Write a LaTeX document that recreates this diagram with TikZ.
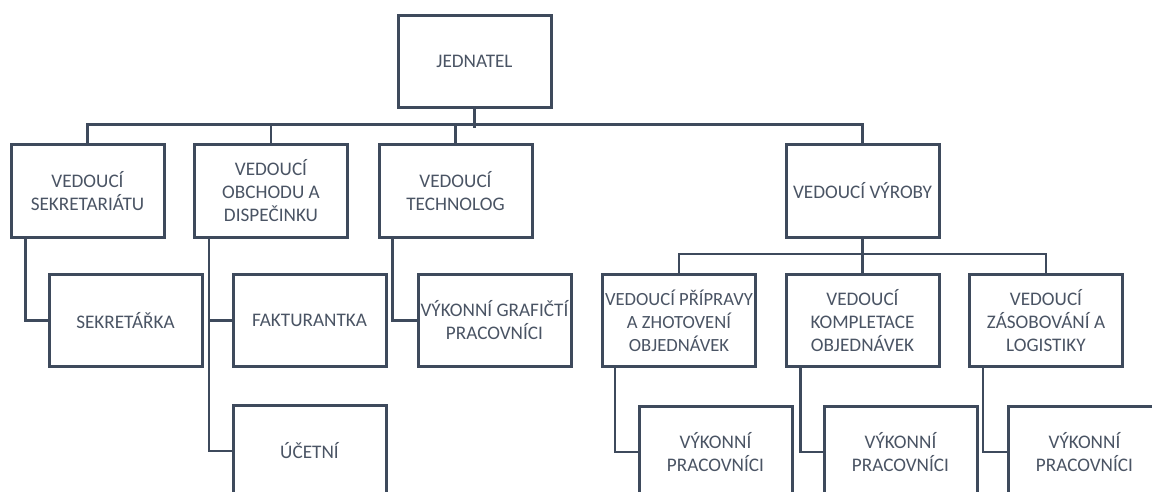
\documentclass[tikz,border=0pt]{standalone}
\usepackage{fontspec}
\setmainfont{Carlito}
\definecolor{frame}{RGB}{62,74,92}
\definecolor{label}{RGB}{74,84,100}
\tikzset{
  unit/.style={draw=frame, line width=3pt, fill=white, text=label,
    minimum width=153pt, minimum height=92pt, inner sep=0pt,
    align=center, font=\fontsize{19.2}{23}\selectfont},
  tight/.style={font=\fontsize{18.6}{23}\selectfont},
  link/.style={draw=frame, line width=2.6pt},
}
\begin{document}
\begin{tikzpicture}[x=1pt,y=-1pt]
\clip (0,0) rectangle (1152,492);

% top
\node[unit] (jed) at (474.5,61.5) {JEDNATEL};

% second level
\node[unit] (sek) at (87.5,191) {VEDOUCÍ\\SEKRETARIÁTU};
\node[unit] (obc) at (271,191) {VEDOUCÍ\\OBCHODU A\\DISPEČINKU};
\node[unit] (tec) at (455.5,191) {VEDOUCÍ\\TECHNOLOG};
\node[unit] (vyr) at (862.5,191) {VEDOUCÍ VÝROBY};

% staff under the left managers
\node[unit] (sta) at (125.5,320.5) {SEKRETÁŘKA};
\node[unit] (fak) at (309.5,320.5) {FAKTURANTKA};
\node[unit] (uce) at (309.5,451) {ÚČETNÍ};
\node[unit] (gra) at (494.5,320.5) {VÝKONNÍ GRAFIČTÍ\\PRACOVNÍCI};

% production departments
\node[unit, tight] (pri) at (679,320.5) {VEDOUCÍ PŘÍPRAVY\\A ZHOTOVENÍ\\OBJEDNÁVEK};
\node[unit] (kom) at (862.5,320.5) {VEDOUCÍ\\KOMPLETACE\\OBJEDNÁVEK};
\node[unit] (zas) at (1046,320.5) {VEDOUCÍ\\ZÁSOBOVÁNÍ A\\LOGISTIKY};

\node[unit] (vp1) at (715.5,452) {VÝKONNÍ\\PRACOVNÍCI};
\node[unit] (vp2) at (900.5,452) {VÝKONNÍ\\PRACOVNÍCI};
\node[unit] (vp3) at (1084.5,452) {VÝKONNÍ\\PRACOVNÍCI};

% main bus
\draw[link] (jed.south) -- ++(0,19);
\draw[link] (sek.north) -- ++(0,-19) -| (vyr.north);
\draw[link] (obc.north) -- ++(0,-19);
\draw[link] (tec.north) -- ++(0,-19);

% left side reports
\draw[link] ([xshift=16pt]sek.south west) |- (sta.west);
\draw[link] ([xshift=16pt]obc.south west) |- (fak.west);
\draw[link] ([xshift=16pt]obc.south west) |- (uce.west);
\draw[link] ([xshift=15pt]tec.south west) |- (gra.west);

% production bus
\draw[link] (vyr.south) -- (kom.north);
\draw[link] (pri.north) -- ++(0,-19) -| (zas.north);

% production staff
\draw[link] ([xshift=14pt]pri.south west) |- (vp1.west);
\draw[link] ([xshift=16pt]kom.south west) |- (vp2.west);
\draw[link] ([xshift=15pt]zas.south west) |- (vp3.west);
\end{tikzpicture}
\end{document}
